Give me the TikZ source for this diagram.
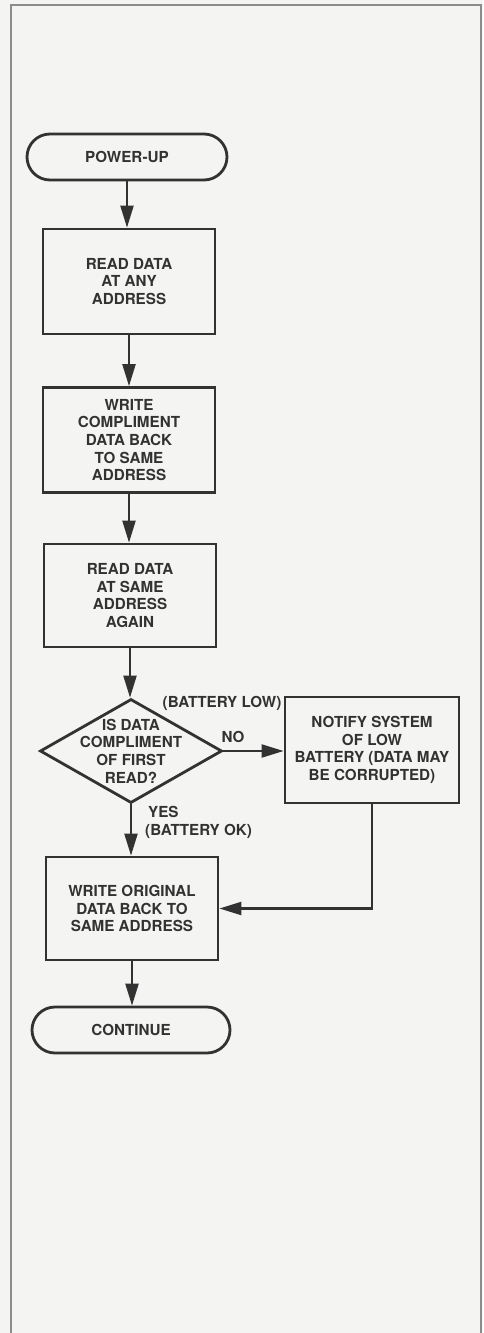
\documentclass[tikz,border=0pt]{standalone}
\usepackage{fontspec}
\setmainfont{TeX Gyre Heros}
\usetikzlibrary{arrows.meta,shapes.geometric,positioning}

\definecolor{inkgray}{RGB}{50,50,50}
\definecolor{framegray}{RGB}{140,140,140}
\definecolor{paper}{RGB}{244,244,242}

\tikzset{
  ink/.style={draw=inkgray,line width=2.8pt},
  procbox/.style={ink,rectangle,minimum width=172pt,minimum height=105pt,align=center,inner sep=0pt},
  termbox/.style={ink,rounded corners=23pt,minimum width=200pt,minimum height=46pt,inner sep=0pt},
  decision/.style={ink,diamond,minimum width=182pt,minimum height=104pt,inner sep=0pt},
  flow/.style={draw=inkgray,line width=2.2pt,-{Triangle[length=22pt,width=13pt]}},
  note/.style={inner sep=0pt,align=center}
}

\begin{document}
\begin{tikzpicture}[x=1pt,y=-1pt,font=\fontsize{15.2}{17.6}\selectfont\bfseries,text=inkgray]
\useasboundingbox (0,0) rectangle (483,1333);
\fill[paper] (0,0) rectangle (483,1333);
\draw[framegray,line width=2pt] (11,1333) -- (11,5) -- (481,5) -- (481,1333);
%
\node[termbox] (powerup) at (127,157) {POWER-UP};
\node[procbox] (readany) at (129,281.5) {READ DATA\\AT ANY\\ADDRESS};
\node[procbox] (writecomp) at (129,440) {WRITE\\COMPLIMENT\\DATA BACK\\TO SAME\\ADDRESS};
\node[procbox,minimum height=103pt] (readsame) at (130,595.5) {READ DATA\\AT SAME\\ADDRESS\\AGAIN};
\node[decision] (check) at (131,751) {};
\node[note] (checktxt) at (check) {IS DATA\\COMPLIMENT\\OF FIRST\\READ?};
\node[procbox,minimum width=174pt,minimum height=106pt] (notify) at (372,750) {NOTIFY SYSTEM\\OF LOW\\BATTERY (DATA MAY\\BE CORRUPTED)};
\node[procbox,minimum height=103pt] (writeorig) at (132,908.5) {WRITE ORIGINAL\\DATA BACK TO\\SAME ADDRESS};
\node[termbox,minimum width=198pt] (cont) at (131,1030) {CONTINUE};
%
\foreach \a/\b in {powerup/readany,readany/writecomp,writecomp/readsame,readsame/check,check/writeorig,writeorig/cont}
\draw[flow] (\a.south) -- (\a.south |- \b.north);
\draw[flow] (check.east) -- (check.east -| notify.west);
\draw[flow] (notify.south) |- (writeorig.east);
%
\node[note] (lowlbl) at (222,703) {(BATTERY LOW)};
\node[note] (nolbl) at (233,737) {NO};
\node[note,anchor=west] (yeslbl) at (148,812) {YES};
\node[note,anchor=west] (oklbl) at (145,831) {(BATTERY OK)};
\end{tikzpicture}
\end{document}
